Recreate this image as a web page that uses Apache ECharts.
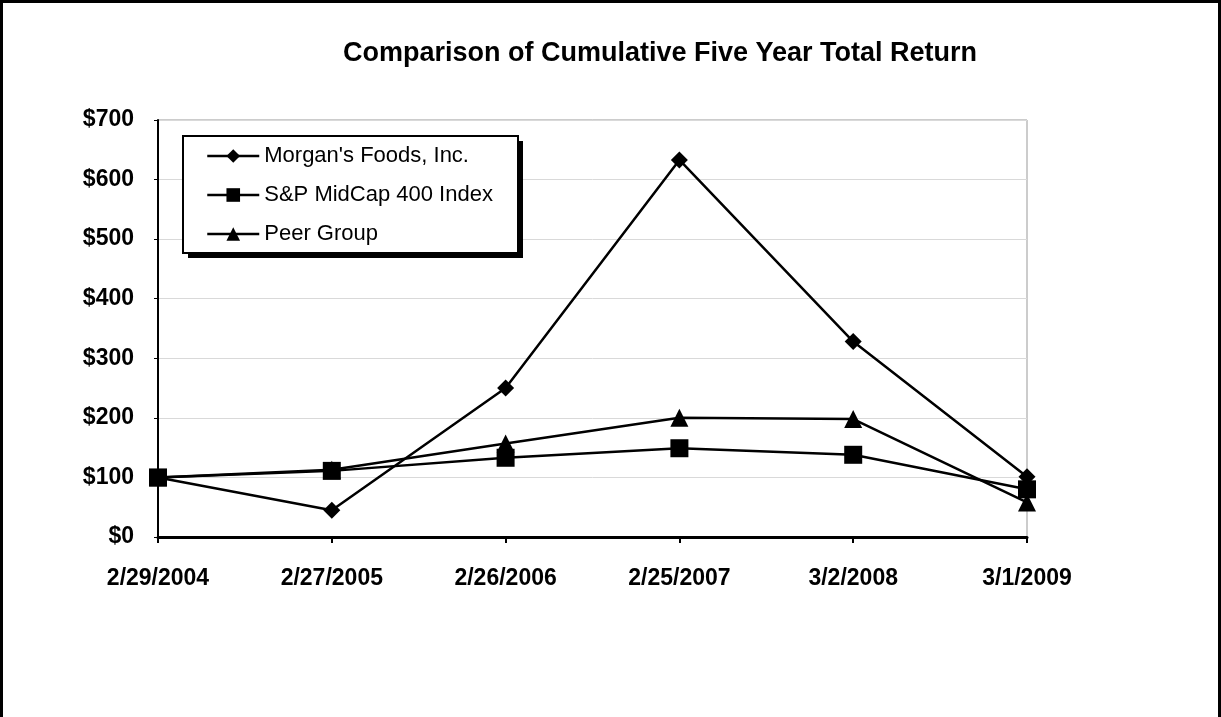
<!DOCTYPE html>
<html><head><meta charset="utf-8">
<script src="https://cdn.jsdelivr.net/npm/echarts@6/dist/echarts.min.js"></script>
<style>html,body{margin:0;padding:0;background:#fff}#c{width:1221px;height:717px;box-sizing:border-box;border-left:3px solid #000;border-top:3px solid #000;border-right:3px solid #000}</style>
</head><body><div id="c"></div>
<script>
const categories = ['2/29/2004','2/27/2005','2/26/2006','2/25/2007','3/2/2008','3/1/2009'];
const morgans = [100, 45, 250, 633, 328, 101];
const midcap = [100, 111, 133, 149, 138, 80];
const peer = [100, 113, 157, 200, 198, 58];
const yTicks = [0, 100, 200, 300, 400, 500, 600, 700];
const seriesNames = ['Morgan\'s Foods, Inc.','S&P MidCap 400 Index','Peer Group'];

const chart = echarts.init(document.getElementById('c'), null, {renderer:'canvas'});
const font = 'Liberation Sans, Arial, sans-serif';
function mk(name, data, symbol, size){
  return {name, type:'line', data, symbol, symbolSize:size, showSymbol:true,
    lineStyle:{color:'#000', width:2.5}, itemStyle:{color:'#000'}, z: 3, animation:false};
}
chart.setOption({
  animation:false,
  title:{text:'Comparison of Cumulative Five Year Total Return', left:652, textAlign:'center', top:32,
    textStyle:{fontFamily:font, fontWeight:'bold', fontSize:27, color:'#000'}},
  grid:{left:155, right:191, top:117, bottom:180, show:true, borderColor:'#999', borderWidth:1, backgroundColor:'transparent'},
  graphic:[
    {type:'rect', z:5, left:185, top:138, shape:{width:335, height:117}, style:{fill:'#000'}},
    {type:'rect', z:5, left:179, top:132, shape:{width:335, height:117},
      style:{fill:'#fff', stroke:'#000', lineWidth:2}}
  ],
  legend:{orient:'vertical', left:203, top:142, padding:0, itemGap:17, itemWidth:52, itemHeight:17, z:6,
    lineStyle:{width:2.5},
    textStyle:{fontFamily:font, fontSize:22, color:'#000'},
    data:seriesNames},
  xAxis:{type:'category', data:categories, boundaryGap:false,
    axisLine:{lineStyle:{color:'#000', width:3}},
    axisTick:{show:true, alignWithLabel:true, length:6, lineStyle:{color:'#000', width:2}},
    axisLabel:{fontFamily:font, fontWeight:'bold', fontSize:23, color:'#000', margin:30}},
  yAxis:{type:'value', min:0, max:700, interval:100,
    axisLine:{show:true, lineStyle:{color:'#000', width:2}},
    axisTick:{show:true, length:4, lineStyle:{color:'#000'}},
    splitLine:{lineStyle:{color:'#d9d9d9', width:1}},
    axisLabel:{fontFamily:font, fontWeight:'bold', fontSize:23, color:'#000', margin:24,
      formatter:v=> yTicks.includes(v) ? '$'+v : ''}},
  series:[
    mk(seriesNames[0], morgans, 'diamond', 17),
    mk(seriesNames[1], midcap, 'rect', 18),
    mk(seriesNames[2], peer, 'triangle', 18)
  ]
});
</script></body></html>
